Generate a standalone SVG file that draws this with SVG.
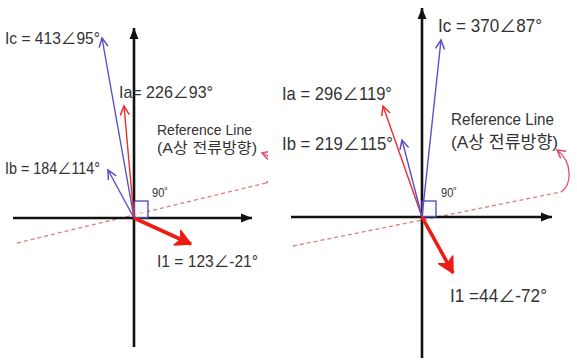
<svg xmlns="http://www.w3.org/2000/svg" width="577" height="361" viewBox="0 0 577 361">
<style>
.lbl{font-family:"Liberation Sans","Noto Sans CJK KR",Arial,sans-serif;fill:#333;}
.axis{stroke:#111;stroke-width:2.6;fill:none;}
.vb{stroke:#5a4fc8;stroke-width:1.4;fill:none;}
.vr{stroke:#e8302a;stroke-width:1.4;fill:none;}
.vt{stroke:#ee1c14;stroke-width:3.6;fill:none;}
.ref{stroke:#e07c84;stroke-width:1.3;stroke-dasharray:4 3;fill:none;}
.curve{stroke:#e0506a;stroke-width:1.3;fill:none;}
.sq{stroke:#3838b0;stroke-width:1.2;fill:#f4f6ff;fill-opacity:0.5;}
</style>
<defs>
<marker id="axArr" markerUnits="userSpaceOnUse" markerWidth="12" markerHeight="12" viewBox="0 -6 12 12" refX="11" refY="0" orient="auto">
<path d="M0,-4.5 L11,0 L0,4.5 Z" fill="#111"/>
</marker>
<marker id="openB" markerUnits="userSpaceOnUse" markerWidth="14" markerHeight="14" viewBox="-12 -7 14 14" refX="0" refY="0" orient="auto">
<path d="M-9,-4.5 L0,0 L-9,4.5" fill="none" stroke="#5a4fc8" stroke-width="1.5"/>
</marker>
<marker id="openR" markerUnits="userSpaceOnUse" markerWidth="14" markerHeight="14" viewBox="-12 -7 14 14" refX="0" refY="0" orient="auto">
<path d="M-9,-4.5 L0,0 L-9,4.5" fill="none" stroke="#e8302a" stroke-width="1.5"/>
</marker>
<marker id="thickR" markerUnits="userSpaceOnUse" markerWidth="22" markerHeight="22" viewBox="-18 -11 22 22" refX="0" refY="0" orient="auto">
<path d="M-15,-8 L0,0 L-15,8 L-11,0 Z" fill="#ee1c14" stroke="#ee1c14" stroke-width="1.5" stroke-linejoin="round"/>
</marker>
<marker id="curveR" markerUnits="userSpaceOnUse" markerWidth="14" markerHeight="14" viewBox="-12 -7 14 14" refX="0" refY="0" orient="auto">
<path d="M-8,-4.5 L0,0 L-8,4.5" fill="none" stroke="#e0506a" stroke-width="1.6"/>
</marker>
<clipPath id="clipL"><rect x="0" y="0" width="268" height="361"/></clipPath>
</defs>
<rect width="577" height="361" fill="#fff"/>

<g id="left-panel" clip-path="url(#clipL)">
  <g id="left-reference">
    <path class="ref" d="M17,243 L266,183"/>
    <path class="curve" d="M266,183 C276,176 278,158 262,153" marker-end="url(#curveR)"/>
  </g>
  <g id="left-axes">
    <line class="axis" x1="134" y1="347" x2="134" y2="28" marker-end="url(#axArr)"/>
    <line class="axis" x1="13" y1="218" x2="252" y2="218" marker-end="url(#axArr)"/>
  </g>
  <g id="left-right-angle">
    <rect class="sq" x="134" y="201" width="14" height="17"/>
    <text class="lbl" x="152" y="197" font-size="12" textLength="16" lengthAdjust="spacingAndGlyphs">90˚</text>
  </g>
  <g id="left-Ic">
    <line class="vb" x1="134" y1="218" x2="102" y2="38" marker-end="url(#openB)"/>
    <text class="lbl" x="5" y="44" font-size="17" textLength="95" lengthAdjust="spacingAndGlyphs">Ic = 413∠95°</text>
  </g>
  <g id="left-Ia">
    <line class="vr" x1="134" y1="218" x2="124" y2="106" marker-end="url(#openR)"/>
    <text class="lbl" x="119" y="98" font-size="17" textLength="94" lengthAdjust="spacingAndGlyphs">Ia= 226∠93°</text>
  </g>
  <g id="left-Ib">
    <line class="vb" x1="134" y1="218" x2="108" y2="170" marker-end="url(#openB)"/>
    <text class="lbl" x="5" y="174" font-size="17" textLength="95" lengthAdjust="spacingAndGlyphs">Ib = 184∠114°</text>
  </g>
  <g id="left-I1">
    <line class="vt" x1="134" y1="218" x2="191" y2="244" marker-end="url(#thickR)"/>
    <text class="lbl" x="157" y="267" font-size="17" textLength="101" lengthAdjust="spacingAndGlyphs">I1 = 123∠-21°</text>
  </g>
  <g id="left-ref-label">
    <text class="lbl" x="157" y="135" font-size="15" textLength="95" lengthAdjust="spacingAndGlyphs">Reference Line</text>
    <text class="lbl" x="157" y="153" font-size="15" textLength="100" lengthAdjust="spacingAndGlyphs">(A상 전류방향)</text>
  </g>
</g>

<g id="right-panel">
  <g id="right-reference">
    <path class="ref" d="M293,246 L561,192"/>
    <path class="curve" d="M561,192 C572,185 573,162 557,150" marker-end="url(#curveR)"/>
  </g>
  <g id="right-axes">
    <line class="axis" x1="422" y1="358" x2="422" y2="8" marker-end="url(#axArr)"/>
    <line class="axis" x1="291" y1="217" x2="552" y2="217" marker-end="url(#axArr)"/>
  </g>
  <g id="right-right-angle">
    <rect class="sq" x="422" y="201" width="14" height="16"/>
    <text class="lbl" x="441" y="197" font-size="12" textLength="16" lengthAdjust="spacingAndGlyphs">90˚</text>
  </g>
  <g id="right-Ic">
    <line class="vb" x1="422" y1="217" x2="441" y2="40" marker-end="url(#openB)"/>
    <text class="lbl" x="438" y="32" font-size="18.5" textLength="104" lengthAdjust="spacingAndGlyphs">Ic = 370∠87°</text>
  </g>
  <g id="right-Ia">
    <line class="vr" x1="422" y1="217" x2="383" y2="106" marker-end="url(#openR)"/>
    <text class="lbl" x="282" y="100" font-size="18.5" textLength="110" lengthAdjust="spacingAndGlyphs">Ia = 296∠119°</text>
  </g>
  <g id="right-Ib">
    <line class="vb" x1="422" y1="217" x2="402" y2="140" marker-end="url(#openB)"/>
    <text class="lbl" x="282" y="150" font-size="18.5" textLength="111" lengthAdjust="spacingAndGlyphs">Ib = 219∠115°</text>
  </g>
  <g id="right-I1">
    <line class="vt" x1="422" y1="217" x2="453" y2="273" marker-end="url(#thickR)"/>
    <text class="lbl" x="450" y="302" font-size="18.5" textLength="97" lengthAdjust="spacingAndGlyphs">I1 =44∠-72°</text>
  </g>
  <g id="right-ref-label">
    <text class="lbl" x="451" y="125" font-size="17" textLength="103" lengthAdjust="spacingAndGlyphs">Reference Line</text>
    <text class="lbl" x="451" y="148" font-size="17" textLength="107" lengthAdjust="spacingAndGlyphs">(A상 전류방향)</text>
  </g>
</g>
</svg>
